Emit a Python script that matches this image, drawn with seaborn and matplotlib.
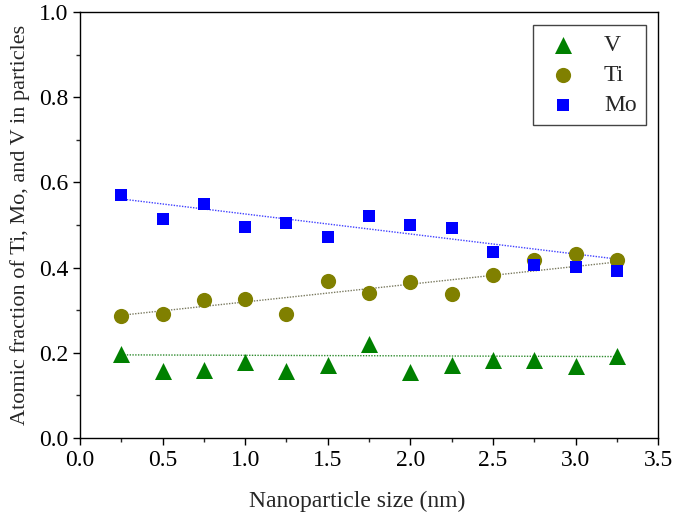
import numpy as np
import pandas as pd
import matplotlib
matplotlib.use('Agg')
import matplotlib.pyplot as plt
from matplotlib.ticker import MultipleLocator, FormatStrFormatter
import seaborn as sns

# Dữ liệu
sizes = [0.25, 0.5, 0.75, 1.0, 1.25, 1.5, 1.75, 2.0, 2.25, 2.5, 2.75, 3.0, 3.25]
v_frac = [0.196, 0.158, 0.160, 0.179, 0.157, 0.172, 0.220, 0.155, 0.171, 0.184, 0.183, 0.168, 0.193]
ti_frac = [0.286, 0.290, 0.324, 0.327, 0.291, 0.368, 0.341, 0.367, 0.337, 0.383, 0.417, 0.432, 0.418]
mo_frac = [0.570, 0.514, 0.550, 0.495, 0.504, 0.472, 0.521, 0.499, 0.493, 0.436, 0.407, 0.402, 0.391]
elements = ['V', 'Ti', 'Mo']

# đường xu hướng (hai đầu mút)
trend_x = [0.25, 3.25]
trend_v = [0.195, 0.191]
trend_ti = [0.288, 0.413]
trend_mo = [0.561, 0.420]

df = pd.DataFrame({
    'size': sizes * 3,
    'fraction': v_frac + ti_frac + mo_frac,
    'element': ['V'] * len(sizes) + ['Ti'] * len(sizes) + ['Mo'] * len(sizes),
})
trend = pd.DataFrame({
    'size': trend_x * 3,
    'fraction': trend_v + trend_ti + trend_mo,
    'element': ['V'] * 2 + ['Ti'] * 2 + ['Mo'] * 2,
})

colors = {'V': '#008000', 'Ti': '#808000', 'Mo': '#0000ff'}
line_colors = {'V': '#2e8b2e', 'Ti': '#7a7a60', 'Mo': '#4040ff'}
markers = {'V': '^', 'Ti': 'o', 'Mo': 's'}
msizes = {'V': 150, 'Ti': 120, 'Mo': 85}

sns.set_style('ticks')
plt.rcParams['font.family'] = ['Liberation Serif', 'DejaVu Serif']

fig, ax = plt.subplots(figsize=(6.75, 5.14), dpi=100)
fig.subplots_adjust(left=0.1185, right=0.975, top=0.9767, bottom=0.148)

for el in elements:
    sns.lineplot(data=trend[trend.element == el], x='size', y='fraction', ax=ax,
                 color=line_colors[el], ls=(0, (1, 1)), lw=1.0, legend=False)

for el in elements:
    sub = df[df.element == el]
    sns.scatterplot(data=sub, x='size', y='fraction', ax=ax, color=colors[el],
                    marker=markers[el], s=msizes[el], linewidth=0, label=el, zorder=3)

ax.set_xlim(0, 3.5)
ax.set_ylim(0, 1.0)
ax.xaxis.set_major_locator(MultipleLocator(0.5))
ax.xaxis.set_minor_locator(MultipleLocator(0.25))
ax.yaxis.set_major_locator(MultipleLocator(0.2))
ax.yaxis.set_minor_locator(MultipleLocator(0.1))
ax.tick_params(which='major', direction='out', length=5, width=1, labelsize=17, colors='black')
ax.tick_params(which='minor', direction='out', length=3, width=1)
ax.xaxis.set_major_formatter(FormatStrFormatter('%.1f'))
ax.yaxis.set_major_formatter(FormatStrFormatter('%.1f'))
for sp in ax.spines.values():
    sp.set_visible(True)
    sp.set_linewidth(1.0)
    sp.set_color('black')

ax.set_xlabel('Nanoparticle size (nm)', fontsize=17)
ax.xaxis.set_label_coords(0.48, -0.125)
ax.set_ylabel('Atomic fraction of Ti, Mo, and V in particles', fontsize=16, labelpad=6)

leg = ax.legend(loc='upper right', bbox_to_anchor=(0.979, 0.969), borderaxespad=0,
                fontsize=17, frameon=True, fancybox=False, framealpha=1,
                edgecolor='#444444', handletextpad=0.9, borderpad=0.4,
                labelspacing=0.35, handlelength=1.7)
leg.get_frame().set_linewidth(1.0)

plt.savefig('out.png', dpi=100)
